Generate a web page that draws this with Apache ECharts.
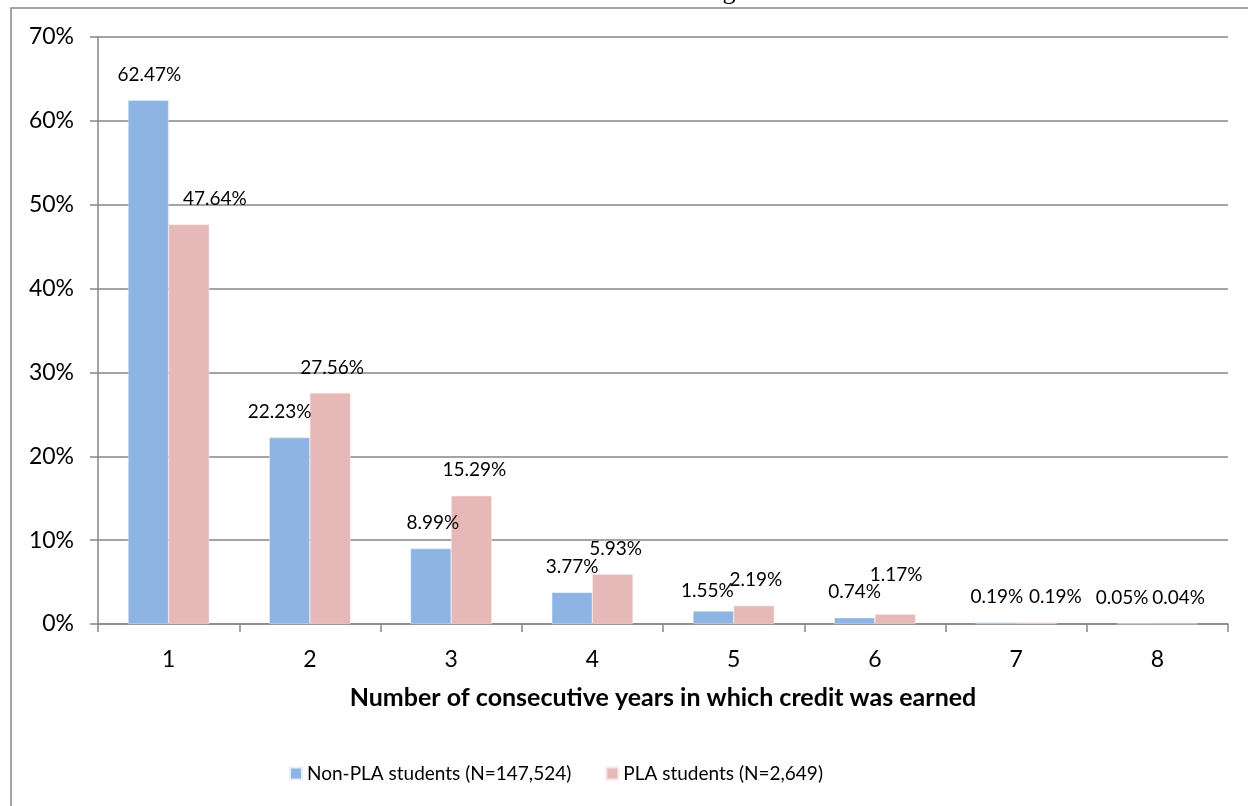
<!DOCTYPE html>
<html>
<head>
<meta charset="utf-8">
<script src="https://cdn.jsdelivr.net/npm/echarts@6/dist/echarts.min.js"></script>
<style>
html,body{margin:0;padding:0;background:#fff;}
#chart{width:1248px;height:806px;}
</style>
</head>
<body>
<div id="chart"></div>
<script>
var categories = ['1', '2', '3', '4', '5', '6', '7', '8'];
var nonPla = [62.47, 22.23, 8.99, 3.77, 1.55, 0.74, 0.19, 0.05];
var pla = [47.64, 27.56, 15.29, 5.93, 2.19, 1.17, 0.19, 0.04];
var seriesNames = ['Non-PLA students (N=147,524)', 'PLA students (N=2,649)'];
var yTicks = [0, 10, 20, 30, 40, 50, 60, 70];

// label nudges (style only), mimicking the source's label placement
var nonPlaLabelOffset = [[1,0],[-10,0],[2,0],[0,0],[-6,5],[0,0],[1,0],[-15,0]];
var plaLabelOffset = [[26,0],[2,0],[3,0],[3,0],[2,0],[1,-14],[19,0],[1,0]];

var font = 'Lato, "Open Sans", sans-serif';

function buildData(vals, offs) {
  return vals.map(function (v, i) {
    return { value: v, label: { offset: offs[i] } };
  });
}

var chart = echarts.init(document.getElementById('chart'));
chart.setOption({
  animation: false,
  backgroundColor: '#ffffff',
  grid: { left: 98, right: 20, top: 37, bottom: 182, containLabel: false },
  legend: {
    top: 759,
    left: 284,
    itemGap: 34,
    itemWidth: 12,
    itemHeight: 12,
    icon: 'rect',
    textStyle: { fontFamily: font, fontSize: 19, color: '#000' },
    data: seriesNames
  },
  xAxis: {
    type: 'category',
    data: categories,
    name: 'Number of consecutive years in which credit was earned',
    nameLocation: 'middle',
    nameGap: 61,
    nameTextStyle: { fontFamily: font, fontSize: 25, fontWeight: 'bold', color: '#000' },
    axisLine: { lineStyle: { color: '#868686', width: 1.5 } },
    axisTick: { show: true, length: 8, alignWithLabel: false, lineStyle: { color: '#868686', width: 1.5 } },
    axisLabel: { fontFamily: font, fontSize: 23, color: '#000', margin: 24 },
    splitLine: { show: false }
  },
  yAxis: {
    type: 'value',
    min: 0,
    max: 70,
    interval: 10,
    axisLine: { show: true, lineStyle: { color: '#868686', width: 1.5 } },
    axisTick: { show: true, length: 8, inside: false, lineStyle: { color: '#868686', width: 1.5 } },
    axisLabel: {
      fontFamily: font, fontSize: 23, color: '#000', margin: 24,
      formatter: function (v) { return yTicks.indexOf(v) >= 0 ? v + '%' : ''; }
    },
    splitLine: { show: true, lineStyle: { color: '#868686', width: 1.5 } }
  },
  graphic: [
    {
      type: 'rect',
      shape: { x: 11, y: 8, width: 1300, height: 900 },
      style: { fill: 'none', stroke: '#868686', lineWidth: 1.5 },
      silent: true,
      z: -10
    },
    {
      type: 'text',
      left: 420,
      top: -21,
      style: {
        text: 'Students who did not earn degrees',
        font: '26px "Liberation Serif", "DejaVu Serif", serif',
        fill: '#000'
      },
      silent: true
    }
  ],
  series: [
    {
      name: seriesNames[0],
      type: 'bar',
      data: buildData(nonPla, nonPlaLabelOffset),
      barGap: '0%',
      barCategoryGap: '42.5%',
      itemStyle: { color: '#8EB4E3', borderColor: '#E8EEF7', borderWidth: 0.5 },
      label: {
        show: true, position: 'top', distance: 16,
        fontFamily: font, fontSize: 19, color: '#000',
        formatter: function (p) { return p.value.toFixed(2) + '%'; }
      }
    },
    {
      name: seriesNames[1],
      type: 'bar',
      data: buildData(pla, plaLabelOffset),
      barGap: '0%',
      barCategoryGap: '42.5%',
      itemStyle: { color: '#E6B9B8', borderColor: '#F6E8E8', borderWidth: 0.5 },
      label: {
        show: true, position: 'top', distance: 16,
        fontFamily: font, fontSize: 19, color: '#000',
        formatter: function (p) { return p.value.toFixed(2) + '%'; }
      }
    }
  ]
});
</script>
</body>
</html>
